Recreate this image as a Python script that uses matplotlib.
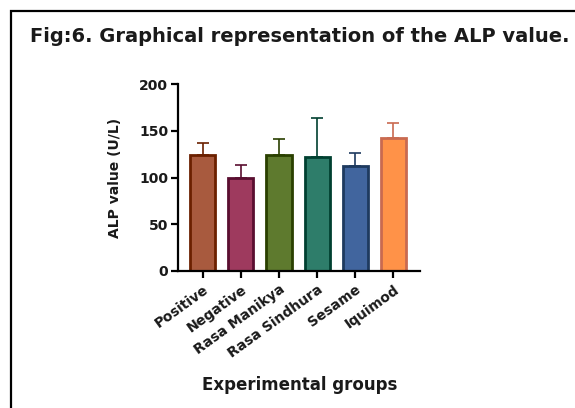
import matplotlib
matplotlib.use("Agg")
import matplotlib.pyplot as plt
from matplotlib.patches import Rectangle

groups = ["Positive", "Negative", "Rasa Manikya", "Rasa Sindhura", "Sesame", "Iquimod"]
means = [124, 100, 124, 122, 112, 142]
errors = [13, 13, 17.5, 42, 14.5, 16.5]
fill_colors = ["#A85A3E", "#9E3A5E", "#5E7A2E", "#2E7D6A", "#41659E", "#FF9248"]
edge_colors = ["#6B2000", "#5A0E30", "#2A4000", "#004030", "#1E3A5F", "#C96A50"]
yticks = [0, 50, 100, 150, 200]

plt.rcParams['font.family'] = ['DejaVu Sans']
plt.rcParams['font.weight'] = 'bold'

fig = plt.figure(figsize=(5.75, 4.08), dpi=100)

# outer frame (open on the right and bottom, as in the scan)
fig.add_artist(Rectangle((11 / 575, -0.05), 1.1, 1.05 - 11 / 408, transform=fig.transFigure,
                         fill=False, ec='black', lw=1.6))

fig.text(30 / 575, 1 - 37 / 408, "Fig:6. Graphical representation of the ALP value.",
         fontsize=14, fontweight='bold', color='#1a1a1a', ha='left', va='center')

ax = fig.add_axes([178 / 575, 1 - 271 / 408, (420 - 178) / 575, (271 - 84) / 408])

x = list(range(len(groups)))
ax.bar(x, means, width=0.66, color=fill_colors, edgecolor=edge_colors, linewidth=2, zorder=2)
for xi, m, e, c in zip(x, means, errors, edge_colors):
    ax.errorbar(xi, m, yerr=[[0], [e]], fmt='none', ecolor=c, elinewidth=1.2,
                capsize=4, capthick=1.2, zorder=1)

ax.set_xlim(-0.65, 5.7)
ax.set_ylim(0, 200)
ax.set_yticks(yticks)
ax.set_xticks(x)
ax.set_xticklabels(groups, rotation=36, ha='right', rotation_mode='anchor', fontsize=10,
                   fontweight='bold', color='#1a1a1a')
ax.tick_params(axis='y', labelsize=10, width=1.6, length=5, pad=2, labelcolor='#1a1a1a')
ax.tick_params(axis='x', width=1.6, length=5, pad=3)
for lab in ax.get_yticklabels():
    lab.set_fontweight('bold')
ax.spines['top'].set_visible(False)
ax.spines['right'].set_visible(False)
ax.spines['left'].set_linewidth(1.6)
ax.spines['bottom'].set_linewidth(1.6)

ax.set_ylabel("ALP value (U/L)", fontsize=10, fontweight='bold', labelpad=12, color='#1a1a1a')
fig.text(300 / 575, 1 - 385 / 408, "Experimental groups", fontsize=12, fontweight='bold',
         color='#1a1a1a', ha='center', va='center')

fig.savefig("out.png", dpi=100)
